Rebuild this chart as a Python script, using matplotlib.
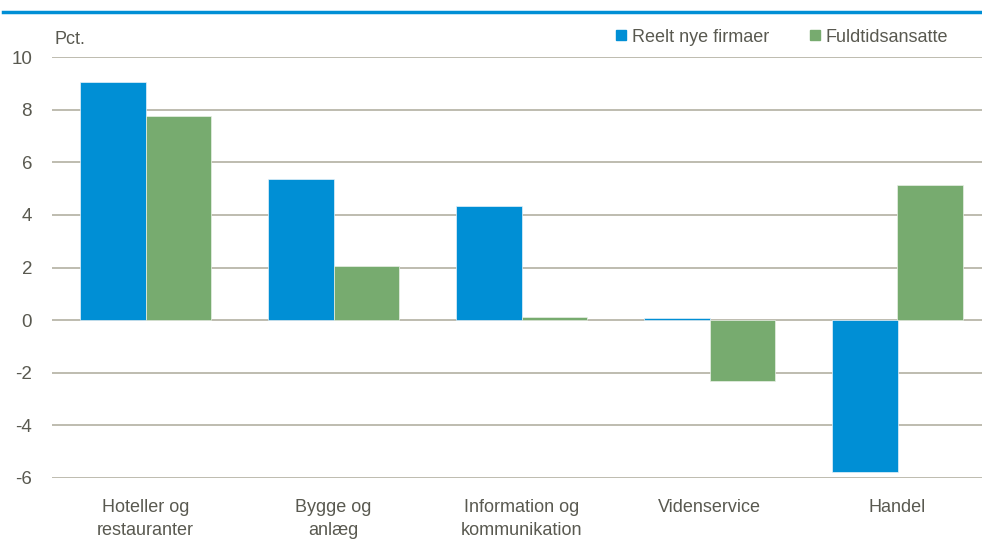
import matplotlib
matplotlib.use("Agg")
import matplotlib.pyplot as plt
import numpy as np
from matplotlib.lines import Line2D

categories = ["Hoteller og\nrestauranter", "Bygge og\nanlæg", "Information og\nkommunikation", "Videnservice", "Handel"]
series_names = ["Reelt nye firmaer", "Fuldtidsansatte"]
reelt_nye = [9.04, 5.35, 4.32, 0.09, -5.79]
fuldtid = [7.76, 2.04, 0.11, -2.31, 5.14]
yticks = [-6, -4, -2, 0, 2, 4, 6, 8, 10]

BLUE = "#008FD5"
GREEN = "#77AB6F"
GRID = "#B3B0A2"
TXT = "#595950"

plt.rcParams['font.family'] = ['Liberation Sans Narrow', 'Liberation Sans', 'DejaVu Sans']

fig = plt.figure(figsize=(9.82, 5.44), dpi=100)
W, H = 982, 544
left_px, right_px = 51.5, 991.5
top_px, bot_px = 57, 478
ax = fig.add_axes([left_px / W, 1 - bot_px / H, (right_px - left_px) / W, (bot_px - top_px) / H])

x = np.arange(len(categories))
w = 0.351
ax.bar(x - w / 2, reelt_nye, width=w, color=BLUE, edgecolor="#E6F2FA", linewidth=0.5, zorder=3)
ax.bar(x + w / 2, fuldtid, width=w, color=GREEN, edgecolor="#E8F0E6", linewidth=0.5, zorder=3)

ax.set_xlim(-0.5, len(categories) - 0.5)
ax.set_ylim(-6, 10)
ax.set_yticks(yticks)
ax.set_yticklabels([str(t) for t in yticks])
ax.yaxis.grid(True, color=GRID, linewidth=1.2, zorder=0)
ax.set_axisbelow(True)
for s in ax.spines.values():
    s.set_visible(False)
ax.tick_params(axis='y', length=0, pad=14, labelsize=13.5, labelcolor=TXT)
ax.set_xticks(x)
ax.set_xticklabels(categories)
ax.tick_params(axis='x', length=0, pad=15, labelsize=13, labelcolor=TXT)
for lab in ax.get_xticklabels():
    lab.set_linespacing(1.45)

fig.text(55 / W, 1 - 40 / H, "Pct.", fontsize=13, color=TXT, va="center", ha="left")

handles = [Line2D([], [], marker='s', linestyle='none', markersize=6.5, color=c) for c in (BLUE, GREEN)]
fig.legend(handles, series_names, loc='center left', bbox_to_anchor=(616 / W, 1 - 37 / H),
           ncol=2, frameon=False, fontsize=13, handlelength=0.6, handletextpad=0.3,
           columnspacing=2.2, labelcolor=TXT, borderpad=0, borderaxespad=0)

fig.add_artist(Line2D([3 / W, 1.0], [1 - 11.5 / H, 1 - 11.5 / H], color=BLUE, linewidth=2.5,
                      transform=fig.transFigure))

fig.savefig("out.png", dpi=100)
